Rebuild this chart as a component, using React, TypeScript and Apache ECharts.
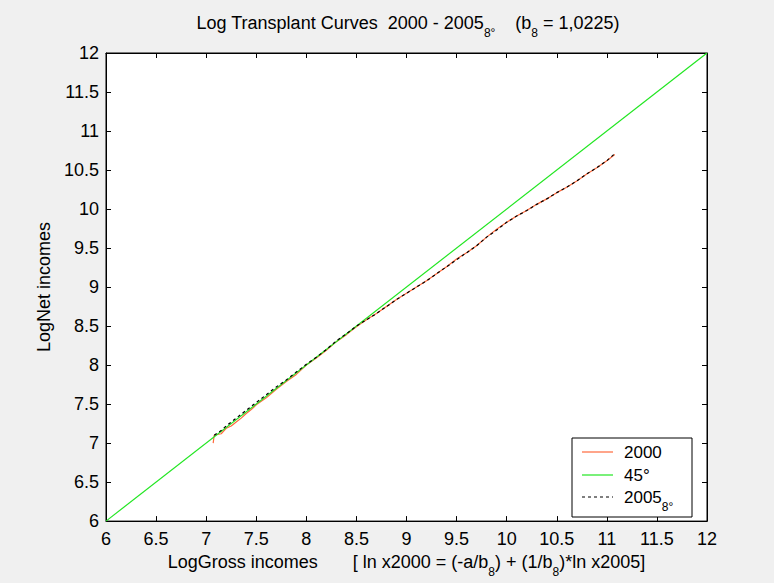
import React, { useEffect, useRef } from "react";
import * as echarts from "echarts";

const x2000 = [7.07, 7.08, 7.15, 7.2, 7.25, 7.3, 7.35, 7.4, 7.45, 7.5, 7.6, 7.7, 7.8, 7.9, 8.0, 8.1, 8.2, 8.3, 8.4, 8.5, 8.6, 8.7, 8.8, 8.9, 9.0, 9.1, 9.2, 9.3, 9.4, 9.5, 9.6, 9.7, 9.8, 9.9, 10.0, 10.1, 10.2, 10.3, 10.4, 10.5, 10.6, 10.7, 10.8, 10.9, 11.0, 11.08];
const y2000 = [7.0, 7.1, 7.12, 7.19, 7.22, 7.27, 7.32, 7.38, 7.43, 7.49, 7.58, 7.69, 7.79, 7.88, 8.0, 8.09, 8.19, 8.3, 8.39, 8.49, 8.58, 8.66, 8.75, 8.84, 8.92, 9.0, 9.08, 9.17, 9.26, 9.36, 9.44, 9.53, 9.64, 9.74, 9.83, 9.91, 9.98, 10.06, 10.13, 10.21, 10.28, 10.36, 10.45, 10.53, 10.62, 10.7];

const x2005 = [7.08, 7.15, 7.2, 7.25, 7.3, 7.35, 7.4, 7.45, 7.5, 7.6, 7.7, 7.8, 7.9, 8.0, 8.1, 8.2, 8.3, 8.4, 8.5, 8.6, 8.7, 8.8, 8.9, 9.0, 9.1, 9.2, 9.3, 9.4, 9.5, 9.6, 9.7, 9.8, 9.9, 10.0, 10.1, 10.2, 10.3, 10.4, 10.5, 10.6, 10.7, 10.8, 10.9, 11.0, 11.08];
const y2005 = [7.1, 7.16, 7.22, 7.27, 7.32, 7.37, 7.42, 7.47, 7.52, 7.62, 7.72, 7.81, 7.91, 8.01, 8.1, 8.2, 8.31, 8.4, 8.5, 8.58, 8.66, 8.75, 8.84, 8.92, 9.0, 9.08, 9.17, 9.26, 9.35, 9.44, 9.53, 9.64, 9.73, 9.83, 9.91, 9.98, 10.06, 10.13, 10.21, 10.28, 10.36, 10.45, 10.53, 10.62, 10.71];

const x45 = [6, 12];
const y45 = [6, 12];

const seriesNames = ["2000", "45°", "2005_8°"];
const legendLabels = ["2000", "45°", "2005{s|8°}"];
const colors = ["#ff6a3d", "#22e622", "#000000"];

const FONT = "'Liberation Sans', Arial, sans-serif";
const NB = "\u00a0";

export default function App() {
  const ref = useRef<HTMLDivElement>(null);
  useEffect(() => {
    if (!ref.current) return;
    const chart = echarts.init(ref.current, null, { renderer: "svg" });
    const zip = (xs: number[], ys: number[]) => xs.map((x, i) => [x, ys[i]]);
    const axisCommon = {
      type: "value" as const,
      min: 6,
      max: 12,
      interval: 0.5,
      splitLine: { show: false },
      axisLine: { show: true, onZero: false, lineStyle: { color: "#000", width: 1 } },
      axisTick: { show: true, inside: true, length: 5, lineStyle: { color: "#000" } },
    };
    const sub = { fontSize: 12, fontFamily: FONT, color: "#000", verticalAlign: "bottom" as const, padding: [0, 0, -7, 0] };
    const legendX = 572;
    const legendY = 438;
    const rowY = [452, 475, 497];
    const legendGraphics: any[] = [
      {
        type: "rect",
        shape: { x: legendX, y: legendY, width: 120, height: 79 },
        style: { fill: "#fff", stroke: "#000", lineWidth: 1 },
        z: 100,
      },
    ];
    seriesNames.forEach((_, i) => {
      legendGraphics.push({
        type: "line",
        shape: { x1: 582, y1: rowY[i], x2: 613, y2: rowY[i] },
        style: { stroke: colors[i], lineWidth: 1.2, lineDash: i === 2 ? [3, 3] : null },
        z: 101,
      });
      legendGraphics.push({
        type: "text",
        x: 624,
        y: rowY[i],
        style: {
          text: legendLabels[i],
          fill: "#000",
          font: `17px ${FONT}`,
          fontSize: 17,
          fontFamily: FONT,
          verticalAlign: "middle",
          align: "left",
          rich: { s: { ...sub, fontSize: 12 } },
        },
        z: 101,
      });
    });
    chart.setOption({
      animation: false,
      backgroundColor: "#f0f0f0",
      textStyle: { fontFamily: FONT },
      title: {
        text: `Log Transplant Curves${NB}${NB}2000 - 2005{s|8°}${NB}${NB}${NB}${NB}(b{s|8} = 1,0225)`,
        left: 403,
        textAlign: "center",
        top: 9,
        textStyle: {
          fontSize: 18,
          fontWeight: "normal",
          color: "#000",
          fontFamily: FONT,
          rich: { s: sub },
        },
      },
      grid: { left: 106, top: 53, right: 67, bottom: 60, show: true, backgroundColor: "#fff", borderColor: "#000", borderWidth: 1 },
      xAxis: [
        {
          ...axisCommon,
          position: "bottom",
          axisLabel: { color: "#000", fontSize: 18, fontFamily: FONT, margin: 9 },
          name: `LogGross incomes${NB}${NB}${NB}${NB}${NB}${NB}${NB}[ ln x2000 = (-a/b{s|8}) + (1/b{s|8})*ln x2005]`,
          nameLocation: "middle",
          nameGap: 31,
          nameTextStyle: { color: "#000", fontSize: 18, fontFamily: FONT, rich: { s: sub } },
        },
        {
          ...axisCommon,
          position: "top",
          axisLabel: { show: false },
        },
      ],
      yAxis: [
        {
          ...axisCommon,
          position: "left",
          axisLabel: { color: "#000", fontSize: 18, fontFamily: FONT, margin: 7 },
          name: "LogNet incomes",
          nameLocation: "middle",
          nameRotate: 90,
          nameGap: 52,
          nameTextStyle: { color: "#000", fontSize: 18, fontFamily: FONT },
        },
        {
          ...axisCommon,
          position: "right",
          axisLabel: { show: false },
        },
      ],
      graphic: legendGraphics,
      series: [
        {
          name: seriesNames[0],
          type: "line",
          data: zip(x2000, y2000),
          symbol: "none",
          lineStyle: { color: colors[0], width: 1.2 },
          itemStyle: { color: colors[0] },
        },
        {
          name: seriesNames[1],
          type: "line",
          data: zip(x45, y45),
          symbol: "none",
          lineStyle: { color: colors[1], width: 1.2 },
          itemStyle: { color: colors[1] },
        },
        {
          name: seriesNames[2],
          type: "line",
          data: zip(x2005, y2005),
          symbol: "none",
          lineStyle: { color: colors[2], width: 1.2, type: [3, 3] },
          itemStyle: { color: colors[2] },
        },
      ],
    });
    return () => chart.dispose();
  }, []);
  return <div ref={ref} style={{ position: "absolute", left: 0, top: 0, width: 774, height: 583 }} />;
}
